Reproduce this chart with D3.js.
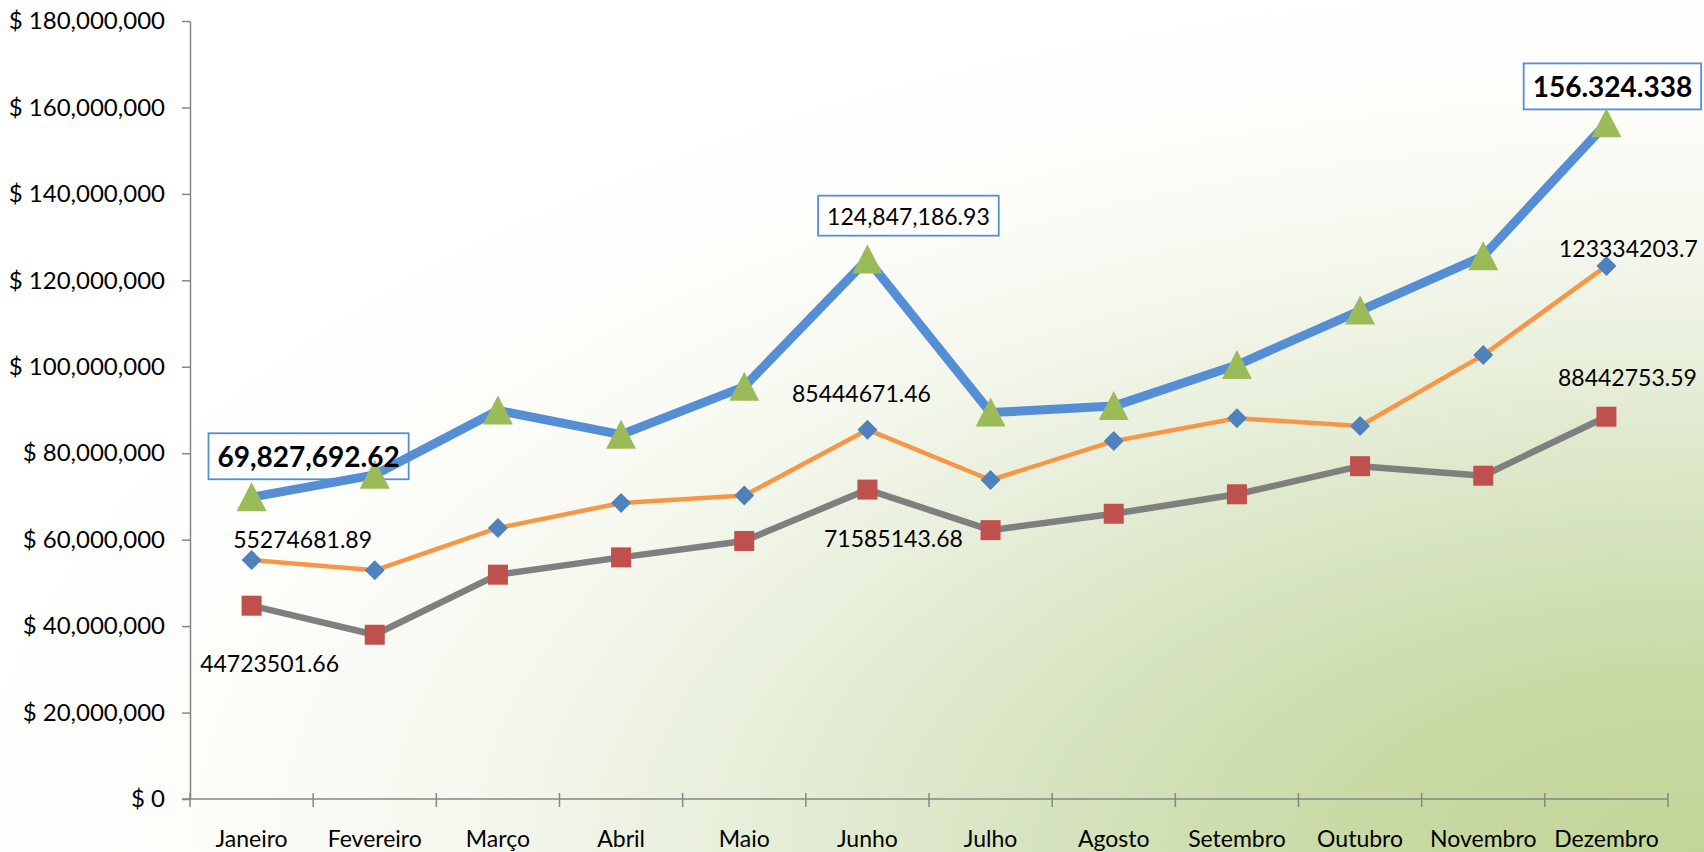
<!DOCTYPE html>
<html>
<head>
<meta charset="utf-8">
<script src="https://cdnjs.cloudflare.com/ajax/libs/d3/7.8.5/d3.min.js"></script>
<style>
  body { margin: 0; background: #fff; }
  svg { display: block; font-family: Lato, "Open Sans", sans-serif; }
</style>
</head>
<body>
<div id="chart"></div>
<script>
// dados
let meses = ["Janeiro", "Fevereiro", "Março", "Abril", "Maio", "Junho",
             "Julho", "Agosto", "Setembro", "Outubro", "Novembro", "Dezembro"]

let serieTotal = [69827692.62, 75000000, 89900000, 84300000, 95400000, 124847186.93,
                  89400000, 90900000, 100400000, 113000000, 125600000, 156324338]
let serieA = [55274681.89, 52900000, 62700000, 68500000, 70200000, 85444671.46,
              73800000, 82800000, 88100000, 86300000, 102700000, 123334203.7]
let serieB = [44723501.66, 38000000, 51900000, 55900000, 59700000, 71585143.68,
              62200000, 66000000, 70500000, 77000000, 74800000, 88442753.59]

let yTicks = [0, 20000000, 40000000, 60000000, 80000000, 100000000,
              120000000, 140000000, 160000000, 180000000]

let width = 1704
let height = 852
let margin = ({top: 21, right: 36, bottom: 53, left: 190})

let svg = d3.select("#chart").append("svg")
    .attr("width", width)
    .attr("height", height)

// fundo
let defs = svg.append("defs")
let grad = defs.append("radialGradient")
    .attr("id", "fundo")
    .attr("cx", 1).attr("cy", 1).attr("r", 1.05)
    .attr("fx", 1).attr("fy", 1)
grad.selectAll("stop")
    .data([[0, "#c2d597"], [0.2, "#c9daa5"], [0.4, "#d9e5c4"], [0.55, "#e8efdb"],
           [0.7, "#f6f8ef"], [0.85, "#fdfdfa"], [1, "#ffffff"]])
    .join("stop")
    .attr("offset", d => d[0])
    .attr("stop-color", d => d[1])

svg.append("rect")
    .attr("width", width).attr("height", height)
    .attr("fill", "url(#fundo)")

let x = d3.scaleBand()
    .domain(meses)
    .range([margin.left, width - margin.right])

let y = d3.scaleLinear()
    .domain([0, 180000000])
    .range([height - margin.bottom, margin.top])

let cx = m => x(m) + x.bandwidth() / 2
let fmtDollar = d => "$ " + d3.format(",")(d)

// eixo y
svg.append("g")
    .attr("transform", `translate(${margin.left},0)`)
    .call(d3.axisLeft(y)
        .tickValues(yTicks)
        .tickFormat(fmtDollar)
        .tickSize(8)
        .tickSizeOuter(0)
        .tickPadding(17))
    .call(g => g.select(".domain").attr("stroke", "#868686").attr("stroke-width", 1.5))
    .call(g => g.selectAll(".tick line").attr("stroke", "#868686").attr("stroke-width", 1.5))
    .call(g => g.selectAll(".tick text")
        .attr("font-size", 24)
        .attr("font-family", "Lato, sans-serif")
        .attr("fill", "#000"))

// eixo x
let xAxis = svg.append("g")
    .attr("transform", `translate(0,${y(0)})`)
    .call(d3.axisBottom(x)
        .tickSize(0)
        .tickSizeOuter(0)
        .tickPadding(32))
    .call(g => g.select(".domain").remove())
    .call(g => g.selectAll(".tick text")
        .attr("font-size", 23)
        .attr("font-family", "Lato, sans-serif")
        .attr("fill", "#000"))

xAxis.append("line")
    .attr("x1", margin.left - 8)
    .attr("x2", width - margin.right)
    .attr("stroke", "#868686")
    .attr("stroke-width", 1.5)

xAxis.selectAll(".divisa")
    .data(meses.map(m => x(m)).concat([x.range()[1]]))
    .join("line")
    .attr("class", "divisa")
    .attr("x1", d => d).attr("x2", d => d)
    .attr("y1", -6).attr("y2", 8)
    .attr("stroke", "#868686")
    .attr("stroke-width", 1.5)

// caixas dos rótulos (atrás das linhas)
let caixas = svg.append("g")

// linhas
let linha = d3.line()
    .x((d, i) => cx(meses[i]))
    .y(d => y(d))

let series = [
    {key: "B", values: serieB, stroke: "#7f7f7f", width: 6.5},
    {key: "A", values: serieA, stroke: "#f79646", width: 4.5},
    {key: "Total", values: serieTotal, stroke: "#558ed5", width: 9}
]

svg.append("g")
    .selectAll("path")
    .data(series)
    .join("path")
    .attr("fill", "none")
    .attr("stroke", d => d.stroke)
    .attr("stroke-width", d => d.width)
    .attr("stroke-linejoin", "round")
    .attr("d", d => linha(d.values))

// marcadores
svg.append("g")
    .selectAll("rect")
    .data(serieB)
    .join("rect")
    .attr("x", (d, i) => cx(meses[i]) - 10)
    .attr("y", d => y(d) - 10)
    .attr("width", 20)
    .attr("height", 20)
    .attr("fill", "#c0504d")

svg.append("g")
    .selectAll("path")
    .data(serieA)
    .join("path")
    .attr("transform", (d, i) => `translate(${cx(meses[i])},${y(d)})`)
    .attr("d", "M0,-10L10,0L0,10L-10,0Z")
    .attr("fill", "#4f81bd")

svg.append("g")
    .selectAll("path")
    .data(serieTotal)
    .join("path")
    .attr("transform", (d, i) => `translate(${cx(meses[i])},${y(d)})`)
    .attr("d", "M0,-15L15,14L-15,14Z")
    .attr("fill", "#9bbb59")

// rótulos simples
let simples = [
    {values: serieA, i: 0, dx: 51, dy: -12},
    {values: serieB, i: 0, dx: 18, dy: 66},
    {values: serieA, i: 5, dx: -6, dy: -28},
    {values: serieB, i: 5, dx: 26, dy: 57},
    {values: serieA, i: 11, dx: 22, dy: -9},
    {values: serieB, i: 11, dx: 21, dy: -31}
]

svg.append("g")
    .selectAll("text")
    .data(simples)
    .join("text")
    .attr("x", d => cx(meses[d.i]) + d.dx)
    .attr("y", d => y(d.values[d.i]) + d.dy)
    .attr("text-anchor", "middle")
    .attr("font-size", 23)
    .attr("fill", "#000")
    .text(d => String(d.values[d.i]))

// rótulos em caixa
let destaque = [
    {i: 0, dx: 57, dy: -40, bold: true, fmt: d3.format(",.2f")},
    {i: 5, dx: 41, dy: -43, bold: false, fmt: d3.format(",.2f")},
    {i: 11, dx: 6, dy: -36, bold: true, fmt: v => d3.format(",.0f")(v).replace(/,/g, ".")}
]

let textos = svg.append("g")
    .selectAll("text")
    .data(destaque)
    .join("text")
    .attr("x", d => cx(meses[d.i]) + d.dx)
    .attr("y", d => y(serieTotal[d.i]) + d.dy)
    .attr("dy", "0.36em")
    .attr("text-anchor", "middle")
    .attr("font-size", d => d.bold ? 28 : 23)
    .attr("font-weight", d => d.bold ? "bold" : "normal")
    .attr("fill", "#000")
    .text(d => d.fmt(serieTotal[d.i]))

textos.each(function(d) {
    let b = this.getBBox()
    caixas.append("rect")
        .attr("x", b.x - 9)
        .attr("y", b.y - 6)
        .attr("width", b.width + 18)
        .attr("height", b.height + 12)
        .attr("fill", "#fff")
        .attr("stroke", "#558ed5")
        .attr("stroke-width", 1.8)
})
</script>
</body>
</html>
